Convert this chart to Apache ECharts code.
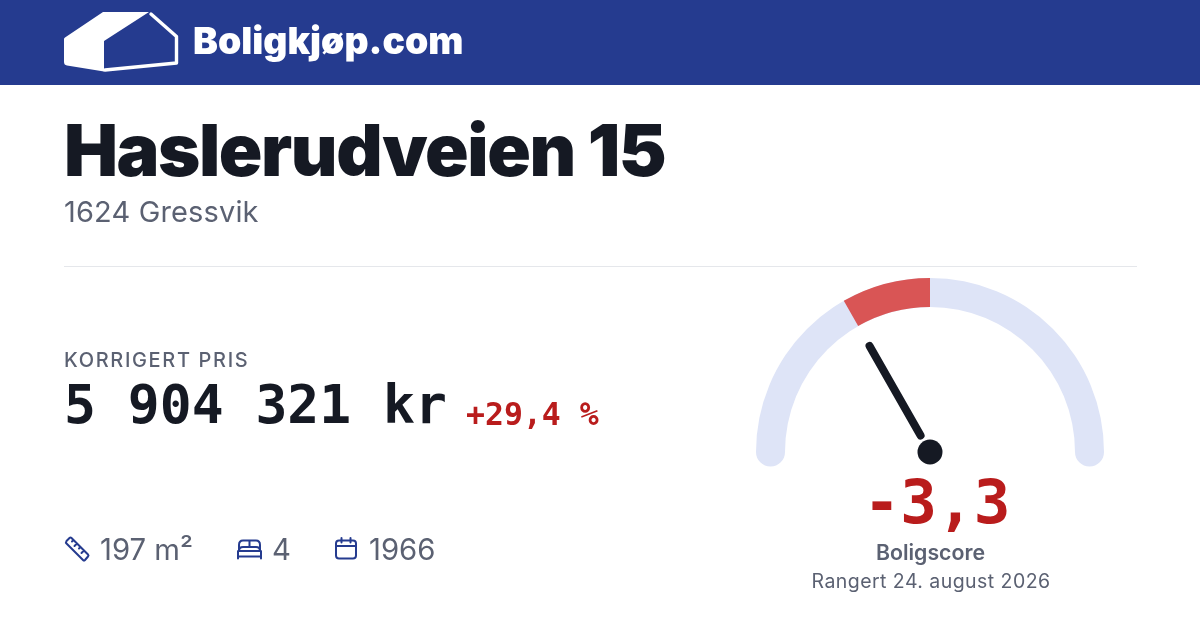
<!DOCTYPE html>
<html><head><meta charset="utf-8">
<style>html,body{margin:0;padding:0;background:#fff}#c{width:1200px;height:630px}</style>
<script src="https://cdn.jsdelivr.net/npm/echarts@6/dist/echarts.min.js"></script>
</head><body><div id="c"></div>
<script>
const scoreMin = -10;
const scoreMax = 10;
const scoreValue = -3.3;
const scoreLabel = '-3,3';
const brandName = 'Boligkjøp.com';
const addressLine = 'Haslerudveien 15';
const cityLine = '1624 Gressvik';
const priceCaption = 'KORRIGERT PRIS';
const priceText = '5 904 321 kr';
const changeText = '+29,4 %';
const areaText = '197 m²';
const bedsText = '4';
const yearText = '1966';
const scoreCaption = 'Boligscore';
const rankedText = 'Rangert 24. august 2026';

const NAVY='#253b8f', INK='#151923', GREY='#5b6172', RED='#b91c1c', TRACK='#dee4f7', ARC='#d95555';
const SANS='Inter', MONO='"DejaVu Sans Mono"';

// Tracking per text, applied through the canvas letterSpacing property
const tracking = {};
tracking[addressLine]='-1.44px';
tracking[cityLine]='0.15px';
tracking[priceCaption]='1.65px';
tracking[rankedText]='0.45px';
const nativeFill = CanvasRenderingContext2D.prototype.fillText;
CanvasRenderingContext2D.prototype.fillText = function(t,x,y,m){
  this.letterSpacing = tracking[t] || '0px';
  return m===undefined ? nativeFill.call(this,t,x,y) : nativeFill.call(this,t,x,y,m);
};

const chart = echarts.init(document.getElementById('c'), null, {renderer:'canvas'});

const frac = v => (v - scoreMin) / (scoreMax - scoreMin);
const arcFrom = Math.min(scoreValue, 0), arcTo = Math.max(scoreValue, 0);

let shapeId = 0;
const pathEl = (d, style) => {
  const name = 'p' + (shapeId++);
  echarts.graphic.registerShape(name, echarts.graphic.extendPath(d, {}));
  return {type:name, silent:true, style};
};
const txt = (x,y,text,font,fill,align) => ({type:'text',x,y,silent:true,
  style:{text,font,fill,textAlign:align||'left',textVerticalAlign:'middle'}});
const icon = (d,w) => pathEl(d,{fill:null,stroke:NAVY,lineWidth:w||2,lineCap:'round',lineJoin:'round'});

const base = {type:'gauge',center:[930,452],radius:174,min:scoreMin,max:scoreMax,startAngle:180,endAngle:0,
  splitLine:{show:false},axisTick:{show:false},axisLabel:{show:false},title:{show:false},detail:{show:false},silent:true,animation:false};

chart.setOption({
  animation:false,
  backgroundColor:'#fff',
  series:[
    Object.assign({},base,{z:2,data:[{value:scoreValue}],pointer:{show:false},
      axisLine:{roundCap:true,lineStyle:{width:29,color:[[1,TRACK]]}}}),
    Object.assign({},base,{z:3,data:[{value:scoreValue}],
      axisLine:{roundCap:false,lineStyle:{width:29,color:[[frac(arcFrom),'rgba(0,0,0,0)'],[frac(arcTo),ARC],[1,'rgba(0,0,0,0)']]}},
      pointer:{show:true,icon:'path://M0 4A4 4 0 0 1 8 4V107A4 4 0 0 1 0 107Z',width:8,length:111,offsetCenter:[0,-15],itemStyle:{color:INK}},
      anchor:{show:true,showAbove:true,size:25,itemStyle:{color:INK,borderWidth:0}}})
  ],
  graphic:{elements:[
    {type:'rect',silent:true,z:-1,shape:{x:0,y:0,width:1200,height:85},style:{fill:NAVY}},
    pathEl('M65 37.5L103 12H149L104 41V71.5L67 65.5Q64 65 64 62V39Q64 38 65 37.5Z',{fill:'#fff'}),
    pathEl('M151 14L176.5 36.5V63L105 70',{fill:null,stroke:'#fff',lineWidth:3.4,lineCap:'round',lineJoin:'round'}),
    txt(193,43,brandName,'900 37.3px '+SANS,'#fff'),
    txt(64,154,addressLine,'900 72px '+SANS,INK),
    txt(64,213,cityLine,'400 29px '+SANS,GREY),
    {type:'rect',silent:true,shape:{x:64,y:266,width:1073,height:1},style:{fill:'#e5e7eb'}},
    txt(64,361,priceCaption,'500 20px '+SANS,GREY),
    txt(64,409,priceText,'700 53px '+MONO,INK),
    txt(466,417,changeText,'700 31.5px '+MONO,RED),
    icon('M66.5 541L69.5 538Q70.5 537 71.5 538L88 554.5Q89 555.5 88 556.5L85 560Q84 561 83 560L66.5 543.5Q65.5 542.5 66.5 541ZM73.5 540L72 541.5M77 543.5L74.5 546M80.5 547L79 548.5M84 550.5L81.5 553'),
    txt(100,551,areaText,'400 29.3px '+SANS,GREY),
    icon('M239 551V545Q239 540.5 243 540.5H256Q260 540.5 260 545V551M249.5 540.5V547M239 551Q239 547 243 547H256Q260 547 260 551M238 551H261V556.5H238ZM238 556.5V558.5M261 556.5V558.5'),
    txt(272,551,bedsText,'400 29.3px '+SANS,GREY),
    icon('M339 540.5H353Q356 540.5 356 543.5V555.5Q356 558.5 353 558.5H339Q336 558.5 336 555.5V543.5Q336 540.5 339 540.5ZM341.5 538V542.5M350.5 538V542.5M336 546H356'),
    txt(369,551,yearText,'400 29.3px '+SANS,GREY),
    txt(937,507,scoreLabel,'700 61px '+MONO,RED,'center'),
    txt(930.5,553.5,scoreCaption,'600 21.3px '+SANS,GREY,'center'),
    txt(931,582,rankedText,'400 19.5px '+SANS,GREY,'center')
  ]}
});
</script></body></html>
